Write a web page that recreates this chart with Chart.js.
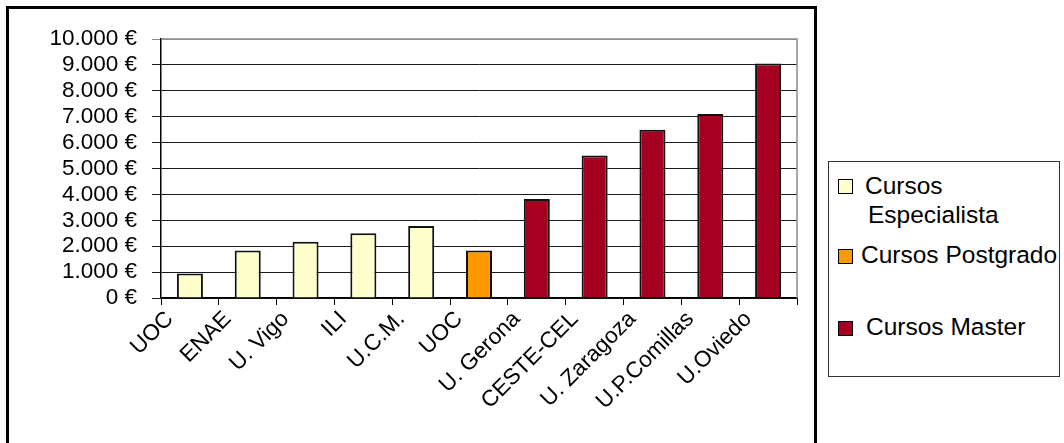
<!DOCTYPE html>
<html>
<head>
<meta charset="utf-8">
<script src="https://cdn.jsdelivr.net/npm/chart.js@4/dist/chart.umd.min.js"></script>
<style>
  body { margin: 0; background: #fff; width: 1064px; height: 443px; overflow: hidden; position: relative; font-family: "Liberation Sans", Arial, sans-serif; }
  #frame { position: absolute; left: 6px; top: 6px; width: 805px; height: 450px; border: 3px solid #000; }
  #wrap { position: absolute; left: 0; top: 0; width: 820px; height: 443px; }
  #legend { position: absolute; left: 828px; top: 161px; width: 230px; height: 214px; border: 1px solid #333; }
  .sw { position: absolute; width: 13px; height: 13px; border: 1px solid #000; }
  .lt { position: absolute; font-size: 24.5px; color: #000; line-height: 28px; white-space: nowrap; }
</style>
</head>
<body>
<div id="frame"></div>
<div id="wrap"><canvas id="myChart"></canvas></div>
<div id="legend"></div>
<script>
// centros y cursos
var categorias = ['UOC', 'ENAE', 'U. Vigo', 'ILI', 'U.C.M.', 'UOC', 'U. Gerona', 'CESTE-CEL', 'U. Zaragoza', 'U.P.Comillas', 'U.Oviedo'];
var especialista = [950, 1830, 2170, 2500, 2780, null, null, null, null, null, null];
var postgrado = [null, null, null, null, null, 1830, null, null, null, null, null];
var master = [null, null, null, null, null, null, 3820, 5500, 6500, 7100, 9050];
var nombres = [['Cursos', 'Especialista'], ['Cursos Postgrado'], ['Cursos Master']];
var colores = ['#FFFFCC', '#FF9900', '#A50021'];
var ejeY = [0, 1000, 2000, 3000, 4000, 5000, 6000, 7000, 8000, 9000, 10000];

function euros(v) {
  return String(v).replace(/\B(?=(\d{3})+(?!\d))/g, '.') + ' €';
}

var fuente = 'Liberation Sans, Arial, sans-serif';

// borde gris arriba y a la derecha del area
var bordeGris = {
  id: 'bordeGris',
  beforeDatasetsDraw: function(chart) {
    var a = chart.chartArea;
    var c = chart.ctx;
    c.save();
    c.strokeStyle = '#8c8c8c';
    c.lineWidth = 1.5;
    c.beginPath();
    c.moveTo(a.left, a.top);
    c.lineTo(a.right, a.top);
    c.lineTo(a.right, a.bottom);
    c.stroke();
    c.restore();
  }
};

var series = [especialista, postgrado, master];
var datasets = [];
for (var i = 0; i < series.length; i++) {
  datasets.push({
    label: nombres[i].join(' '),
    data: series[i],
    backgroundColor: colores[i],
    borderColor: '#111',
    borderWidth: 2,
    barPercentage: 0.45,
    categoryPercentage: 1,
    grouped: false
  });
}

var canvas = document.getElementById('myChart');
var ctx = canvas.getContext('2d');
var grafico = new Chart(ctx, {
  type: 'bar',
  data: { labels: categorias, datasets: datasets },
  plugins: [bordeGris],
  options: {
    responsive: true,
    maintainAspectRatio: false,
    animation: false,
    layout: { padding: { left: 0, right: 23, top: 39, bottom: 0 } },
    plugins: { legend: { display: false }, tooltip: { enabled: false } },
    scales: {
      x: {
        offset: true,
        afterFit: function(s) { s.height = 145; },
        grid: { drawOnChartArea: false, drawTicks: true, tickLength: 7, color: '#000' },
        border: { color: '#000', width: 1.5 },
        ticks: {
          autoSkip: false,
          maxRotation: 45,
          minRotation: 45,
          labelOffset: -20,
          padding: 1,
          color: '#000',
          font: { family: fuente, size: 22.5 }
        }
      },
      y: {
        min: 0,
        max: 10000,
        afterFit: function(s) { s.width = 161; },
        afterBuildTicks: function(s) { s.ticks = ejeY.map(function(v) { return { value: v }; }); },
        grid: {
          tickLength: 9,
          color: function(c) { return c.tick && c.tick.value === 10000 ? '#8c8c8c' : '#1a1a1a'; }
        },
        border: { color: '#000', width: 1.5 },
        ticks: {
          autoSkip: false,
          padding: 15,
          color: '#000',
          font: { family: fuente, size: 22.5 },
          callback: function(v) { return euros(v); }
        }
      }
    }
  }
});

// leyenda
var leyenda = document.getElementById('legend');
var posSw = [24, 94, 166];
var posTx = [[10, 39], [79], [151]];
var xTx = [[36, 39], [32], [37]];
for (var k = 0; k < nombres.length; k++) {
  var sw = document.createElement('div');
  sw.className = 'sw';
  sw.style.left = '9px';
  sw.style.top = (posSw[k] - 7) + 'px';
  sw.style.background = colores[k];
  leyenda.appendChild(sw);
  for (var j = 0; j < nombres[k].length; j++) {
    var t = document.createElement('div');
    t.className = 'lt';
    t.textContent = nombres[k][j];
    t.style.left = xTx[k][j] + 'px';
    t.style.top = posTx[k][j] + 'px';
    leyenda.appendChild(t);
  }
}
</script>
</body>
</html>
